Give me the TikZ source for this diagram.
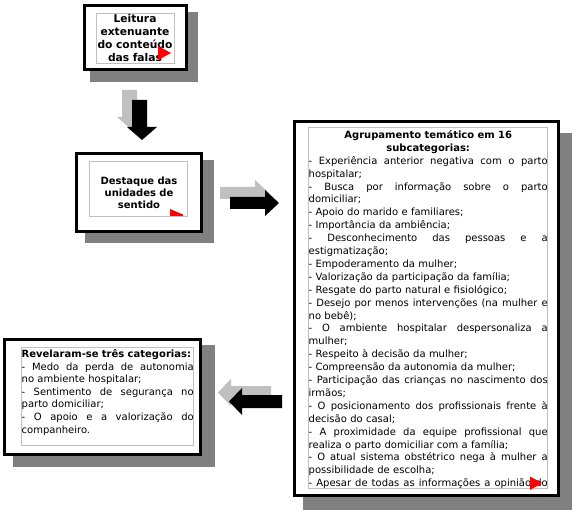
\documentclass[tikz,border=0pt]{standalone}
\usepackage{fontspec}
\setmainfont{DejaVu Sans}
\definecolor{shadowgray}{HTML}{808080}
\definecolor{innergray}{HTML}{C0C0C0}
\definecolor{lightarrow}{HTML}{C0C0C0}
\newcommand\JL[1]{\hbox to\linewidth{\frenchspacing\spaceskip=\fontdimen2\font plus 1fil\relax #1}}
\newcommand\LL[1]{\hbox to\linewidth{#1\hfil}}
\newcommand\CL[1]{\hbox to\linewidth{\hfil #1\hfil}}
\tikzset{
  shadowbox/.style={fill=shadowgray, draw=none},
  outerbox/.style={draw=black, line width=3.2pt, fill=white},
  innerbox/.style={draw=innergray, line width=0.8pt},
  flag/.style={fill=red, draw=none},
  txt/.style={inner sep=0pt, align=left},
  lightarr/.style={fill=lightarrow, draw=none},
  darkarr/.style={fill=black, draw=none}
}
\begin{document}
\begin{tikzpicture}[x=1pt,y=-1pt]
\useasboundingbox[fill=white] (0,0) rectangle (578,513);

% ---- Box 1 ----
\fill[shadowbox] (90,12) rectangle (198,82);
\draw[outerbox] (84.5,5.5) rectangle (186.5,69.5);
\draw[innerbox] (96,13) rectangle (174,63);
\node[txt, text width=78pt, align=center, anchor=base, font={\fontsize{10.7}{13}\selectfont\bfseries}] (t1) at (135,22.5)
  {Leitura\\extenuante\\do conteúdo\\das falas};
\fill[flag] (158,46) -- (171,53) -- (158,60) -- cycle;

% ---- down arrows ----
\fill[lightarr] (122,90) -- (137,90) -- (137,117) -- (147,117) -- (132,130) -- (117,117) -- (122,117) -- cycle;
\fill[darkarr] (132,100) -- (147,100) -- (147,127) -- (157,127) -- (142,140) -- (127,127) -- (132,127) -- cycle;

% ---- Box 2 ----
\fill[shadowbox] (85,160) rectangle (214,243);
\draw[outerbox] (76.5,153.5) rectangle (201.5,231.5);
\draw[innerbox] (89,161) rectangle (187,216);
\node[txt, text width=98pt, align=center, anchor=base, font={\fontsize{10}{12.2}\selectfont\bfseries}] (t2) at (139,184.3)
  {Destaque das\\unidades de\\sentido};
\fill[flag] (170,209) -- (183,214.5) -- (183,216) -- (170,216) -- cycle;

% ---- right arrows ----
\fill[lightarr] (220,187) -- (255,187) -- (255,180) -- (269,193) -- (255,206) -- (255,199) -- (220,199) -- cycle;
\fill[darkarr] (230,197) -- (265,197) -- (265,190) -- (279,203) -- (265,216) -- (265,209) -- (230,209) -- cycle;

% ---- Big box ----
\fill[shadowbox] (303,133) rectangle (572,510);
\draw[outerbox] (294.5,121.5) rectangle (558.5,495.5);
\draw[innerbox] (308,127) rectangle (547,488);
\node[txt, text width=239pt, anchor=base west, font={\fontsize{10}{12.9}\selectfont}] (t3) at (308.5,138.5) {%
\CL{\bfseries Agrupamento temático em 16}
\CL{\bfseries subcategorias:}
\JL{- Experiência anterior negativa com o parto}
\LL{hospitalar;}
\JL{- Busca por informação sobre o parto}
\LL{domiciliar;}
\LL{- Apoio do marido e familiares;}
\LL{- Importância da ambiência;}
\JL{- Desconhecimento das pessoas e a}
\LL{estigmatização;}
\LL{- Empoderamento da mulher;}
\LL{- Valorização da participação da família;}
\LL{- Resgate do parto natural e fisiológico;}
\JL{- Desejo por menos intervenções (na mulher e}
\LL{no bebê);}
\JL{- O ambiente hospitalar despersonaliza a}
\LL{mulher;}
\LL{- Respeito à decisão da mulher;}
\LL{- Compreensão da autonomia da mulher;}
\JL{- Participação das crianças no nascimento dos}
\LL{irmãos;}
\JL{- O posicionamento dos profissionais frente à}
\LL{decisão do casal;}
\JL{- A proximidade da equipe profissional que}
\LL{realiza o parto domiciliar com a família;}
\JL{- O atual sistema obstétrico nega à mulher a}
\LL{possibilidade de escolha;}
\JL{- Apesar de todas as informações a opinião do}};
\fill[flag] (530,476.5) -- (542,483) -- (530,490) -- cycle;

% ---- left arrows ----
\fill[lightarr] (271,386) -- (231,386) -- (231,379) -- (218,392.5) -- (231,406) -- (231,399) -- (271,399) -- cycle;
\fill[darkarr] (282,395) -- (242,395) -- (242,388) -- (229,401.5) -- (242,415) -- (242,408) -- (282,408) -- cycle;

% ---- Left box ----
\fill[shadowbox] (13,345) rectangle (215,467);
\draw[outerbox] (4.5,339.5) rectangle (200.5,454.5);
\draw[innerbox] (21,347) rectangle (193,445);
\node[txt, text width=172pt, anchor=base west, font={\fontsize{10}{12.6}\selectfont}] (t4) at (21.5,357.5) {%
\LL{\bfseries Revelaram-se três categorias:}
\JL{- Medo da perda de autonomia}
\LL{no ambiente hospitalar;}
\JL{- Sentimento de segurança no}
\LL{parto domiciliar;}
\JL{- O apoio e a valorização do}
\LL{companheiro.}};
\end{tikzpicture}
\end{document}
